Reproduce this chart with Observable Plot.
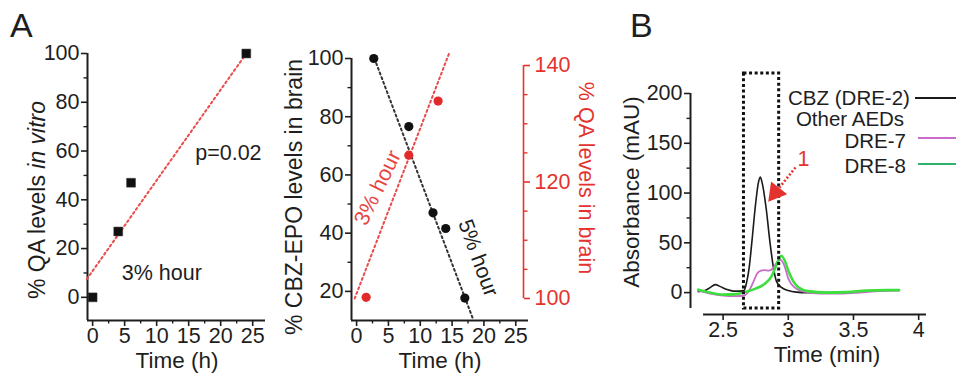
<!DOCTYPE html>
<html>
<head>
<meta charset="utf-8">
<script src="https://cdn.jsdelivr.net/npm/d3@7"></script>
<script src="https://cdn.jsdelivr.net/npm/@observablehq/plot@0.6"></script>
<style>
  html, body { margin: 0; padding: 0; background: #fff; }
  #root { position: relative; width: 956px; height: 376px; overflow: hidden;
          font-family: "Liberation Sans", Arial, Helvetica, sans-serif; color: #1e1e1e; }
  #root svg { position: absolute; left: 0; top: 0; }
  .lbl { position: absolute; white-space: nowrap; font-size: 22.5px; line-height: 1; }
  .swatch { position: absolute; height: 0; }
</style>
</head>
<body>
<div id="root"></div>
<script>
// ---------------- DATA ----------------
// Panel A, left: QA levels in vitro
const vitroTime = [0, 4, 6, 24];
const vitroQA = [0, 27, 47, 100];
const vitroFitTime = [-0.9, 24];
const vitroFitQA = [7.5, 100];
const vitroNotes = ["p=0.02", "3% hour"];
const vitroNoteTime = [21.2, 10.8];
const vitroNoteQA = [59, 10];

// Panel A, middle: CBZ-EPO (left axis) and QA (right axis) in brain
const cbzEpoTime = [2.7, 8.2, 12.0, 14.0, 17.0];
const cbzEpoLevel = [100, 76.6, 47, 41.6, 17.7];
const cbzEpoFitTime = [2.8, 18.2];
const cbzEpoFitLevel = [100, 11];
const qaBrainTime = [1.5, 8.2, 12.8];
const qaBrainLevel = [100.2, 124.6, 133.9];
const qaBrainFitTime = [-0.3, 14.5];
const qaBrainFitLevel = [100, 142];
const brainNotes = ["3% hour", "5% hour"];
const brainNoteTime = [3.3, 19.1];
const brainNoteLevel = [55.5, 31.5];

// Panel B: chromatograms
const cbzTime = [2.31,2.36,2.40,2.44,2.48,2.53,2.58,2.63,2.66,2.68,2.70,2.72,2.75,2.77,2.785,2.80,2.83,2.86,2.89,2.91,2.95,3.00,3.06,3.15,3.30,3.45,3.60,3.75,3.85];
const cbzAbs  = [1,2,5,8,6,3,1.5,1.5,2,10,25,50,90,110,116,110,85,50,22,11,5,2,0.5,0,0,0.5,1.5,2.5,2.5];
const dre7Time = [2.31,2.40,2.50,2.60,2.66,2.70,2.73,2.76,2.79,2.82,2.85,2.88,2.91,2.94,2.97,3.00,3.05,3.12,3.25,3.40,3.55,3.70,3.85];
const dre7Abs  = [2,-1,-3,-3.5,-3,2,10,19,22,22.5,22,24,30,33,27,14,5,1,-1,-1,0,1.5,2];
const dre8Time = [2.31,2.40,2.50,2.60,2.68,2.75,2.82,2.87,2.91,2.945,2.97,3.00,3.04,3.08,3.15,3.30,3.45,3.60,3.75,3.85];
const dre8Abs  = [3,0,-2,-1.5,1,4,9,16,28,37,33,22,11,5,1.5,0,0.5,2,2.5,2.5];
const peakWindowTime = [2.66, 2.93];
const peakWindowAbs = [-16, 220];
const peakArrowTime = [3.055, 2.929];
const peakArrowAbs = [125.7, 105];
const peakHeadTime = [2.902];
const peakHeadAbs = [100.5];
const peakLabel = ["1"];
const peakLabelTime = [3.116];
const peakLabelAbs = [134.5];

// Tick labels
const timeTicksH = [0, 5, 10, 15, 20, 25];
const timeMinorH = [2.5, 7.5, 12.5, 17.5, 22.5];
const vitroTicks = [0, 20, 40, 60, 80, 100];
const vitroMinor = [10, 30, 50, 70, 90];
const cbzTicks = [20, 40, 60, 80, 100];
const cbzMinor = [30, 50, 70, 90];
const qaTicks = [100, 120, 140];
const qaMinor = [105, 110, 115, 125, 130, 135];
const absTicks = [0, 50, 100, 150, 200];
const absMinor = [25, 75, 125, 175];
const minTicks = [2.5, 3, 3.5, 4];

// Legend
const seriesNames = ["CBZ (DRE-2)", "DRE-7", "DRE-8"];
const seriesColors = ["#1a1a1a", "#c96bc9", "#3ddf3d"];
const legendColors = ["#1a1a1a", "#c96bc9", "#2fb36c"];

// ---------------- RENDER ----------------
const RED = "#e4332e";
const INK = "#1e1e1e";
const FONT = "'Liberation Sans', Arial, Helvetica, sans-serif";
const root = document.getElementById("root");

function frameOpts(m) {
  return Object.assign({
    width: 956, height: 376,
    style: {fontSize: "21.5px", fontFamily: FONT, background: "transparent", color: INK, overflow: "visible"}
  }, m);
}
function xAxes(major, minor, fmt) {
  const out = [Plot.axisX({ticks: major, tickSize: 6, tickPadding: 1, strokeWidth: 1.6, label: null, tickFormat: fmt || (d => String(d))})];
  if (minor) out.push(Plot.axisX({ticks: minor, tickSize: 3.5, strokeWidth: 1.4, label: null, tickFormat: () => ""}));
  return out;
}
function yAxes(major, minor, anchor) {
  const out = [Plot.axisY({anchor, ticks: major, tickSize: 6, tickPadding: anchor === "right" ? 5 : 2, strokeWidth: 1.6, label: null, tickFormat: d => String(d)})];
  if (minor) out.push(Plot.axisY({anchor, ticks: minor, tickSize: 3.5, strokeWidth: 1.4, label: null, tickFormat: () => ""}));
  return out;
}
const zipPts = (xs, ys) => xs.map((x, i) => ({x, y: ys[i]}));

// Panel A left
const a1X = [-0.8, 27], a1Y = [-9.5, 100];
const pA1 = Plot.plot(frameOpts({
  marginLeft: 87, marginRight: 956 - 265, marginTop: 53, marginBottom: 376 - 320,
  x: {domain: a1X}, y: {domain: a1Y},
  marks: [
    Plot.ruleX([a1X[0]], {y1: a1Y[0], y2: a1Y[1], stroke: INK, strokeWidth: 2}),
    Plot.ruleY([a1Y[0]], {x1: a1X[0], x2: a1X[1], stroke: INK, strokeWidth: 2}),
    ...xAxes(timeTicksH, timeMinorH),
    ...yAxes(vitroTicks, vitroMinor, "left"),
    Plot.line(zipPts(vitroFitTime, vitroFitQA), {x: "x", y: "y", stroke: "#ea4a4a", strokeWidth: 2, strokeDasharray: "2 3"}),
    Plot.dot(zipPts(vitroTime, vitroQA), {x: "x", y: "y", symbol: "square", r: 5, fill: "#111", stroke: "#333", strokeWidth: 0.5}),
    Plot.text(vitroNotes.map((t, i) => ({t, x: vitroNoteTime[i], y: vitroNoteQA[i]})), {x: "x", y: "y", text: "t", fill: INK})
  ]
}));
root.appendChild(pA1);

// Panel A middle (left axis)
const a2X = [-0.8, 27], a2Y = [10, 100];
const pA2 = Plot.plot(frameOpts({
  marginLeft: 351, marginRight: 956 - 528, marginTop: 58, marginBottom: 376 - 320,
  x: {domain: a2X}, y: {domain: a2Y},
  marks: [
    Plot.ruleX([a2X[0]], {y1: a2Y[0], y2: a2Y[1], stroke: INK, strokeWidth: 2}),
    Plot.ruleY([a2Y[0]], {x1: a2X[0], x2: a2X[1], stroke: INK, strokeWidth: 2}),
    ...xAxes(timeTicksH, timeMinorH),
    ...yAxes(cbzTicks, cbzMinor, "left"),
    Plot.line(zipPts(cbzEpoFitTime, cbzEpoFitLevel), {x: "x", y: "y", stroke: "#333", strokeWidth: 2, strokeDasharray: "2 3"}),
    Plot.dot(zipPts(cbzEpoTime, cbzEpoLevel), {x: "x", y: "y", r: 4.6, fill: "#111"}),
    Plot.text([{t: brainNotes[1], x: brainNoteTime[1], y: brainNoteLevel[1]}], {x: "x", y: "y", text: "t", rotate: 70, fill: INK})
  ]
}));
root.appendChild(pA2);

// Panel A middle (right red axis)
const a3Y = [100, 140];
const pA3 = Plot.plot(frameOpts({
  marginLeft: 351, marginRight: 956 - 523, marginTop: 65, marginBottom: 376 - 298,
  x: {domain: a2X, range: [351, 528], axis: null}, y: {domain: a3Y},
  style: {fontSize: "21.5px", fontFamily: FONT, background: "transparent", color: RED, overflow: "visible"},
  marks: [
    Plot.ruleX([a2X[1]], {y1: a3Y[0], y2: a3Y[1], stroke: RED, strokeWidth: 1.6, dx: -5}),
    ...yAxes(qaTicks, qaMinor, "right"),
    Plot.line(zipPts(qaBrainFitTime, qaBrainFitLevel), {x: "x", y: "y", stroke: "#ea4a4a", strokeWidth: 2, strokeDasharray: "2 3"}),
    Plot.dot(zipPts(qaBrainTime, qaBrainLevel), {x: "x", y: "y", r: 4.6, fill: "#e22a2a"}),
    Plot.text([{t: brainNotes[0], x: brainNoteTime[0], y: 100 + (brainNoteLevel[0] - 17.5) / 2}], {x: "x", y: "y", text: "t", rotate: -64, fill: "#e8453f"})
  ]
}));
root.appendChild(pA3);

// Panel B
const bX = [2.25, 4.06], bY = [-22, 200];
const bXLine = [2.35, 4.06], bYLine = [-16, 200];
const series = [
  ...zipPts(cbzTime, cbzAbs).map(d => ({...d, s: seriesNames[0]})),
  ...zipPts(dre7Time, dre7Abs).map(d => ({...d, s: seriesNames[1]})),
  ...zipPts(dre8Time, dre8Abs).map(d => ({...d, s: seriesNames[2]}))
];
const pB = Plot.plot(frameOpts({
  marginLeft: 690, marginRight: 956 - 926, marginTop: 93, marginBottom: 376 - 314,
  x: {domain: bX}, y: {domain: bY},
  color: {domain: seriesNames, range: seriesColors},
  marks: [
    Plot.ruleX([bX[0]], {y1: bYLine[0], y2: bYLine[1], stroke: INK, strokeWidth: 2}),
    Plot.ruleY([bY[0]], {x1: bXLine[0], x2: bXLine[1], stroke: INK, strokeWidth: 2}),
    ...xAxes(minTicks, null),
    ...yAxes(absTicks, absMinor, "left"),
    Plot.line(series.filter(d => d.s === seriesNames[0]), {x: "x", y: "y", stroke: "s", strokeWidth: 1.6, curve: "monotone-x"}),
    Plot.line(series.filter(d => d.s === seriesNames[1]), {x: "x", y: "y", stroke: "s", strokeWidth: 1.8, curve: "monotone-x"}),
    Plot.line(series.filter(d => d.s === seriesNames[2]), {x: "x", y: "y", stroke: "s", strokeWidth: 2.6, curve: "monotone-x"}),
    Plot.rect([{x1: peakWindowTime[0], x2: peakWindowTime[1], y1: peakWindowAbs[0], y2: peakWindowAbs[1]}],
      {x1: "x1", x2: "x2", y1: "y1", y2: "y2", fill: "none", stroke: "#111", strokeWidth: 3, strokeDasharray: "3 2.6"}),
    Plot.link([{x1: peakArrowTime[0], y1: peakArrowAbs[0], x2: peakArrowTime[1], y2: peakArrowAbs[1]}],
      {x1: "x1", y1: "y1", x2: "x2", y2: "y2", stroke: RED, strokeWidth: 2.6, strokeDasharray: "2 2"}),
    Plot.dot(zipPts(peakHeadTime, peakHeadAbs), {x: "x", y: "y", symbol: "triangle", r: 7.6, fill: RED, rotate: 218}),
    Plot.text(peakLabel.map((t, i) => ({t, x: peakLabelTime[i], y: peakLabelAbs[i]})), {x: "x", y: "y", text: "t", fill: RED})
  ]
}));
root.appendChild(pB);

// ---------------- TEXT (titles, panel letters, legend) ----------------
function label(html, cx, cy, o = {}) {
  const d = document.createElement("div");
  d.className = "lbl";
  d.innerHTML = html;
  d.style.left = cx + "px";
  d.style.top = cy + "px";
  const tx = o.align === "right" ? "-100%" : o.align === "left" ? "0" : "-50%";
  d.style.transform = `translate(${tx},-50%)` + (o.rotate ? ` rotate(${o.rotate}deg)` : "");
  if (o.color) d.style.color = o.color;
  if (o.size) d.style.fontSize = o.size + "px";
  root.appendChild(d);
  return d;
}
function swatch(x1, x2, y, color, w) {
  const d = document.createElement("div");
  d.className = "swatch";
  d.style.left = x1 + "px";
  d.style.width = (x2 - x1) + "px";
  d.style.top = (y - w / 2) + "px";
  d.style.borderTop = `${w}px solid ${color}`;
  root.appendChild(d);
}

label("A", 10, 25, {align: "left", size: 34});
label("B", 630, 25, {align: "left", size: 34});

label("% QA levels <i>in vitro</i>", 37, 200, {rotate: -90, size: 23});
label("Time (h)", 177, 361);
label("% CBZ-EPO levels in brain", 294, 197, {rotate: -90, size: 23});
label("Time (h)", 440, 361);
label("% QA levels in brain", 585, 178, {rotate: 90, color: RED, size: 21.5});
label("Absorbance (mAU)", 632, 192, {rotate: -90});
label("Time (min)", 827, 355);

// legend
label(seriesNames[0], 849, 98, {size: 20.5});
label("Other AEDs", 850, 119, {size: 20.5});
label(seriesNames[1], 906, 141, {align: "right", size: 20.5});
label(seriesNames[2], 906, 166, {align: "right", size: 20.5});
swatch(915, 956, 98, legendColors[0], 2);
swatch(918, 956, 138, legendColors[1], 2);
swatch(918, 956, 164, legendColors[2], 2);
</script>
</body>
</html>
